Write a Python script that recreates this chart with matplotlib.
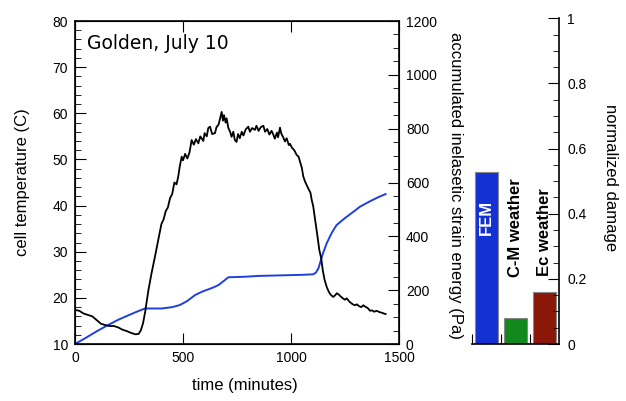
import matplotlib
matplotlib.use("Agg")
import matplotlib.pyplot as plt
from matplotlib.ticker import MultipleLocator

plt.rcParams["font.family"] = ["Liberation Sans", "DejaVu Sans"]

# cell temperature (C) vs time (minutes)
t_temp = [0, 20, 40, 60, 80, 100, 120, 140, 160, 180, 200, 220, 240, 260, 280, 295,
          305, 315, 325, 340, 355, 370, 385, 400, 410, 420, 430, 440, 450, 460, 470,
          478, 485, 494, 500, 510, 520, 530, 540, 550, 560, 571, 580, 594, 600, 610,
          617, 625, 635, 648, 655, 665, 672, 679, 685, 690, 697, 702, 710, 718, 725,
          733, 740, 748, 755, 763, 772, 780, 790, 802, 810, 820, 833, 840, 850, 860,
          872, 880, 890, 900, 910, 918, 925, 935, 940, 949, 955, 962, 972, 980, 990,
          995, 1005, 1015, 1026, 1035, 1042, 1050, 1057, 1065, 1075, 1080, 1090, 1096,
          1103, 1110, 1119, 1125, 1131, 1140, 1147, 1155, 1165, 1175, 1185, 1196, 1205,
          1212, 1219, 1230, 1240, 1250, 1258, 1270, 1280, 1290, 1296, 1305, 1315, 1325,
          1335, 1343, 1355, 1366, 1375, 1385, 1397, 1410, 1420, 1430, 1438]
temp = [17.4, 17.2, 16.6, 16.3, 16.0, 15.2, 14.4, 14.1, 13.9, 13.9, 13.6, 13.1, 12.8,
        12.4, 12.1, 12.2, 13.0, 14.5, 17.0, 21.7, 25.5, 28.9, 32.5, 36.0, 37.0, 38.8,
        39.6, 41.6, 42.5, 45.0, 44.6, 46.3, 48.5, 50.6, 49.8, 51.2, 50.2, 51.5, 54.2,
        53.2, 54.4, 53.5, 55.0, 54.0, 55.7, 55.0, 56.8, 57.1, 55.5, 55.7, 57.0, 57.6,
        59.0, 60.3, 58.4, 59.6, 58.0, 58.9, 56.8, 56.0, 54.9, 56.0, 54.2, 53.8, 55.5,
        54.6, 56.0, 55.2, 56.5, 57.1, 56.0, 56.8, 56.4, 57.3, 56.2, 57.0, 57.3, 56.0,
        56.6, 55.4, 56.2, 55.4, 54.5, 55.8, 54.8, 56.9, 55.6, 55.0, 53.9, 54.6, 53.1,
        53.4, 52.5, 52.0, 51.0, 50.6, 49.5, 48.2, 46.3, 45.2, 44.2, 43.7, 42.8, 41.2,
        39.8, 37.5, 34.7, 32.5, 30.4, 28.5, 26.0, 24.0, 22.4, 21.3, 20.6, 20.2, 20.6,
        21.0, 20.8, 20.3, 19.9, 19.6, 19.9, 19.2, 18.8, 18.5, 18.4, 18.6, 18.2, 18.0,
        18.4, 18.1, 17.8, 17.2, 17.3, 17.0, 17.2, 16.9, 16.8, 16.6, 16.5]

# accumulated inelastic strain energy (Pa) vs time (minutes)
t_energy = [0, 50, 100, 154, 200, 231, 280, 324, 360, 401, 450, 486, 520, 556, 590,
            617, 640, 664, 690, 710, 750, 787, 850, 950, 1050, 1103, 1115, 1127, 1145,
            1165, 1190, 1211, 1250, 1290, 1319, 1360, 1400, 1438]
energy = [0, 23, 47, 71, 90, 101, 118, 132, 132, 132, 137, 145, 160, 182, 195, 203,
          210, 219, 235, 248, 249, 250, 253, 255, 257, 259, 265, 281, 330, 374, 415,
          442, 468, 492, 510, 528, 544, 557]

# normalized damage bars
bar_names = ["FEM", "C-M weather", "Ec weather"]
damage = [0.528, 0.079, 0.16]
bar_colors = ["#1432d4", "#12891c", "#8a1708"]

fig = plt.figure(figsize=(6.26, 4.01), dpi=100)

ax = fig.add_axes([0.1198, 0.1421, 0.5176, 0.8055])
ax2 = ax.twinx()
ax.set_zorder(ax2.get_zorder() + 1)
ax.patch.set_visible(False)

ax.plot(t_temp, temp, color="black", lw=1.3)
ax2.plot(t_energy, energy, color="#1f3fe0", lw=1.4)

ax.set_xlim(0, 1500)
ax.set_ylim(10, 80)
ax2.set_ylim(0, 1200)

ax.xaxis.set_major_locator(MultipleLocator(500))
ax.yaxis.set_major_locator(MultipleLocator(10))
ax.yaxis.set_minor_locator(MultipleLocator(2))
ax2.yaxis.set_major_locator(MultipleLocator(200))
ax2.yaxis.set_minor_locator(MultipleLocator(50))

ax.tick_params(axis="x", which="major", direction="in", length=8, top=True,
               labelsize=10, pad=5)
ax.tick_params(axis="y", which="major", direction="in", length=8, labelsize=10, pad=5)
ax.tick_params(axis="y", which="minor", direction="in", length=4)
ax2.tick_params(axis="y", which="major", direction="in", length=8, labelsize=10, pad=5)
ax2.tick_params(axis="y", which="minor", direction="in", length=4)

ax.set_xlabel("time (minutes)", fontsize=12)
ax.xaxis.set_label_coords(0.525, -0.105)
ax.set_ylabel("cell temperature (C)", fontsize=12)
ax.yaxis.set_label_coords(-0.14, 0.5)
ax2.set_ylabel("accumulated inelasetic strain energy (Pa)", fontsize=12,
               rotation=270, va="center")
ax2.yaxis.set_label_coords(1.173, 0.49)

ax.text(0.037, 0.96, "Golden, July 10", transform=ax.transAxes, fontsize=13.5,
        family="DejaVu Sans", va="top")

for s in ax.spines.values():
    s.set_linewidth(1.2)

# damage bar chart
bx = fig.add_axes([0.7535, 0.1421, 0.1395, 0.8123])
pos = [0.5, 1.5, 2.5]
bx.bar(pos, damage, width=0.8, color=bar_colors, edgecolor="#888888", lw=0.8)
bx.set_xlim(0, 3)
bx.set_ylim(0, 1)
bx.spines["top"].set_visible(False)
bx.spines["left"].set_visible(False)
bx.spines["bottom"].set_linewidth(1.2)
bx.spines["right"].set_linewidth(1.2)
bx.set_xticks([0, 1, 2])
bx.tick_params(axis="x", direction="in", length=7, labelbottom=False)
bx.yaxis.tick_right()
bx.yaxis.set_major_locator(MultipleLocator(0.2))
bx.yaxis.set_minor_locator(MultipleLocator(0.05))
bx.yaxis.set_major_formatter(plt.FuncFormatter(lambda v, p: "%g" % v))
bx.tick_params(axis="y", which="major", direction="in", length=8, labelsize=10, pad=6)
bx.tick_params(axis="y", which="minor", direction="in", length=4)
bx.yaxis.set_label_position("right")
bx.set_ylabel("normalized damage", fontsize=12, rotation=270, va="center")
bx.yaxis.set_label_coords(1.585, 0.51)

bx.text(pos[0], 0.39, bar_names[0], rotation=90, color="white", fontsize=12,
        fontweight="bold", ha="center", va="center")
bx.text(pos[1], 0.205, bar_names[1], rotation=90, color="black", fontsize=12,
        fontweight="bold", ha="center", va="bottom")
bx.text(pos[2], 0.21, bar_names[2], rotation=90, color="black", fontsize=12,
        fontweight="bold", ha="center", va="bottom")

fig.savefig("out.png", dpi=100)
